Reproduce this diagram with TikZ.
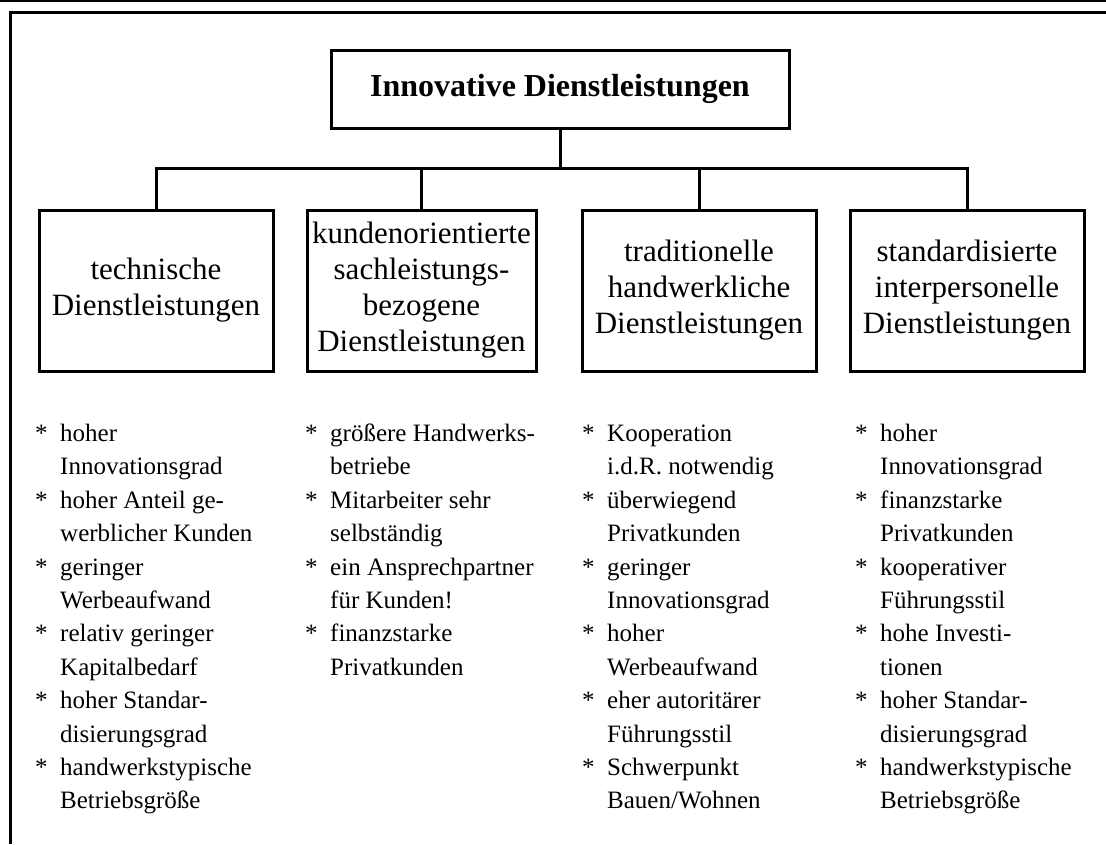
\documentclass[tikz,border=0pt]{standalone}
\usepackage{fontspec}
\setmainfont{Liberation Serif}

\newlength\listind
\setlength\listind{25pt}
\newcommand\litem{\strut\makebox[\listind][l]{*}}
\newcommand\lcont{\strut\hspace*{\listind}}

\begin{document}
\begin{tikzpicture}[x=1pt,y=-1pt,
    headbox/.style={draw,line width=3pt,minimum width=458pt,minimum height=78pt,
        inner sep=0pt,font=\fontsize{32}{36}\selectfont\bfseries},
    catbox/.style={draw,line width=3pt,minimum height=161pt,align=center,
        inner sep=0pt,font=\fontsize{31}{36}\selectfont},
    featlist/.style={anchor=north west,align=left,inner sep=0pt,
        font=\fontsize{25}{33.4}\selectfont},
    link/.style={line width=3pt}]

\useasboundingbox (0,0) rectangle (1106,844);

% Page frame (double rule on top, rule on the left)
\draw[line width=2.5pt] (0,1.2) -- (1106,1.2);
\draw[line width=3pt] (10,844) -- (10,12.5) -- (1106,12.5);

% Top box
\node[headbox] (innov) at (560,89) {Innovative Dienstleistungen};

% The four kinds of services
\node[catbox,minimum width=234pt] (tech) at (156,290.5)
    {technische\\Dienstleistungen};
\node[catbox,minimum width=229pt] (kund) at (421.5,290.5)
    {kundenorientierte\\sachleistungs-\\bezogene\\Dienstleistungen};
\node[catbox,minimum width=234pt] (trad) at (699,290.5)
    {traditionelle\\handwerkliche\\Dienstleistungen};
\node[catbox,minimum width=234pt] (stan) at (967,290.5)
    {standardisierte\\interpersonelle\\Dienstleistungen};

% Tree lines
\coordinate (bar) at (560,168);
\draw[link] (innov.south) -- (bar);
\draw[link] (tech.north) |- (bar) -| (stan.north);
\draw[link] (kund.north) -- (kund.north |- bar);
\draw[link] (trad.north) -- (trad.north |- bar);

% Feature lists
\node[featlist] (techlist) at (35,418) {\litem hoher\\
    \lcont Innovationsgrad\\
    \litem hoher Anteil ge-\\
    \lcont werblicher Kunden\\
    \litem geringer\\
    \lcont Werbeaufwand\\
    \litem relativ geringer\\
    \lcont Kapitalbedarf\\
    \litem hoher Standar-\\
    \lcont disierungsgrad\\
    \litem handwerkstypische\\
    \lcont Betriebsgröße};

\node[featlist] (kundlist) at (305,418) {\litem größere Handwerks-\\
    \lcont betriebe\\
    \litem Mitarbeiter sehr\\
    \lcont selbständig\\
    \litem ein Ansprechpartner\\
    \lcont für Kunden!\\
    \litem finanzstarke\\
    \lcont Privatkunden};

\node[featlist] (tradlist) at (582,418) {\litem Kooperation\\
    \lcont i.d.R. notwendig\\
    \litem überwiegend\\
    \lcont Privatkunden\\
    \litem geringer\\
    \lcont Innovationsgrad\\
    \litem hoher\\
    \lcont Werbeaufwand\\
    \litem eher autoritärer\\
    \lcont Führungsstil\\
    \litem Schwerpunkt\\
    \lcont Bauen/Wohnen};

\node[featlist] (stanlist) at (855,418) {\litem hoher\\
    \lcont Innovationsgrad\\
    \litem finanzstarke\\
    \lcont Privatkunden\\
    \litem kooperativer\\
    \lcont Führungsstil\\
    \litem hohe Investi-\\
    \lcont tionen\\
    \litem hoher Standar-\\
    \lcont disierungsgrad\\
    \litem handwerkstypische\\
    \lcont Betriebsgröße};

\end{tikzpicture}
\end{document}
